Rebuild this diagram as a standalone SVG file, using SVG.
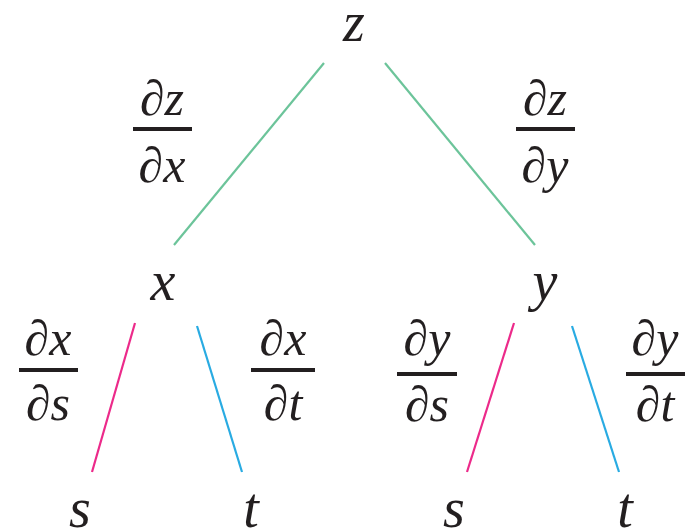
<svg xmlns="http://www.w3.org/2000/svg" width="694" height="532" viewBox="0 0 694 532">
<style>
.v{font-size:56px}
.f{font-size:50px}
.bar{stroke:#231f20;stroke-width:4}
.g{stroke:#6cc49a;stroke-width:2.2}
.m{stroke:#ec2a8a;stroke-width:2.2}
.b{stroke:#29abe2;stroke-width:2.2}
</style>
<rect width="694" height="532" fill="#fff"/>
<g id="connectors">
<line class="g" x1="324" y1="63" x2="174" y2="245"/>
<line class="g" x1="385" y1="63" x2="535" y2="245"/>
<line class="m" x1="135" y1="323" x2="92" y2="472"/>
<line class="b" x1="197" y1="326" x2="242" y2="472"/>
<line class="m" x1="514" y1="323" x2="467" y2="472"/>
<line class="b" x1="572" y1="326" x2="619" y2="472"/>
</g>
<g font-family="'Liberation Serif', 'Times New Roman', serif" font-style="italic" fill="#231f20" text-anchor="middle">
<g id="node-z"><text class="v" x="354" y="41">z</text></g>
<g id="node-x"><text class="v" x="163" y="300">x</text></g>
<g id="node-y"><text class="v" x="545" y="300">y</text></g>
<g id="node-s1"><text class="v" x="80" y="527">s</text></g>
<g id="node-t1"><text class="v" x="251" y="527">t</text></g>
<g id="node-s2"><text class="v" x="454" y="527">s</text></g>
<g id="node-t2"><text class="v" x="625" y="527">t</text></g>
<g id="frac-dz-dx"><text class="f" x="162" y="115">∂z</text><line class="bar" x1="133" y1="129" x2="192" y2="129"/><text class="f" x="162" y="182">∂x</text></g>
<g id="frac-dz-dy"><text class="f" x="545" y="115">∂z</text><line class="bar" x1="516" y1="129" x2="575" y2="129"/><text class="f" x="545" y="182">∂y</text></g>
<g id="frac-dx-ds"><text class="f" x="48" y="355">∂x</text><line class="bar" x1="19" y1="370" x2="78" y2="370"/><text class="f" x="48" y="420">∂s</text></g>
<g id="frac-dx-dt"><text class="f" x="283" y="355">∂x</text><line class="bar" x1="251" y1="370" x2="315" y2="370"/><text class="f" x="283" y="420">∂t</text></g>
<g id="frac-dy-ds"><text class="f" x="427" y="355">∂y</text><line class="bar" x1="397" y1="374" x2="457" y2="374"/><text class="f" x="427" y="421">∂s</text></g>
<g id="frac-dy-dt"><text class="f" x="655" y="355">∂y</text><line class="bar" x1="626" y1="374" x2="685" y2="374"/><text class="f" x="655" y="421">∂t</text></g>
</g>
</svg>
